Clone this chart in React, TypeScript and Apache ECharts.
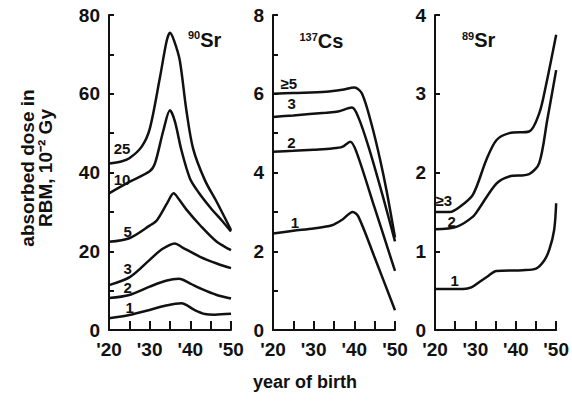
import React, { useEffect, useRef } from "react";
import * as echarts from "echarts";

const FONT = '"Liberation Sans", Arial, Helvetica, sans-serif';
const INK = "#111";

// ---- Panel 1: 90Sr (curves by age group label) ----
const sr90Y25 = [20, 23, 25, 28, 30, 32.5, 34.2, 35, 36, 37.4, 39, 40.7, 43.6, 46.5, 50];
const sr90V25 = [42.3, 42.8, 43.6, 46.5, 51, 64, 73.5, 75.5, 73.5, 68.5, 56, 46, 38, 32.5, 25.4];
const sr90Y10 = [20, 25, 30, 31.3, 33.4, 35, 36.2, 37.8, 39.9, 42, 45, 48, 50];
const sr90V10 = [34.7, 37.6, 40.3, 42.3, 50.8, 55.8, 53, 45.7, 38.5, 35, 31, 27.5, 25];
const sr90Y5 = [20, 25, 30, 31.8, 34.3, 35.9, 37.2, 39.1, 42.4, 46.5, 50];
const sr90V5 = [22.4, 23.3, 26.5, 27.9, 32.2, 34.7, 33.2, 30.5, 26.6, 22.4, 20.3];
const sr90Y3 = [20, 25.2, 30, 33, 36.2, 38, 42.4, 46.5, 50];
const sr90V3 = [11.4, 13.5, 17.8, 20.5, 22, 21, 18.6, 16.9, 15.7];
const sr90Y2 = [20, 25, 30, 34, 37.2, 40, 42.4, 46.5, 50];
const sr90V2 = [8.1, 8.9, 11, 12.5, 13.0, 11.8, 10.6, 8.9, 8.0];
const sr90Y1 = [20, 25, 30, 34, 37.8, 41, 43.6, 46, 50];
const sr90V1 = [3.0, 3.8, 5.1, 6.2, 6.8, 5.1, 4.06, 3.9, 4.1];

// ---- Panel 2: 137Cs ----
const cs5Y = [20, 25, 33, 37, 40, 41.9, 44.3, 46.4, 48, 50];
const cs5V = [6.0, 6.02, 6.05, 6.1, 6.16, 6.0, 5.2, 4.3, 3.5, 2.35];
const cs3Y = [20, 25, 33, 36, 39.4, 41, 43.5, 47, 50];
const cs3V = [5.41, 5.45, 5.52, 5.55, 5.65, 5.4, 4.65, 3.4, 2.25];
const cs2Y = [20, 25, 30, 34.5, 37, 39, 40.6, 45, 50];
const cs2V = [4.53, 4.55, 4.58, 4.61, 4.65, 4.78, 4.5, 3.1, 1.5];
const cs1Y = [20, 25, 30, 34.5, 37, 39.6, 41, 45, 50];
const cs1V = [2.45, 2.52, 2.58, 2.66, 2.8, 3.0, 2.88, 1.84, 0.5];

// ---- Panel 3: 89Sr ----
const sr89Y3 = [20, 23.7, 26, 29.4, 32.7, 35.2, 38.4, 43.3, 45.8, 47.4, 50];
const sr89V3 = [1.5, 1.5, 1.56, 1.72, 2.16, 2.41, 2.5, 2.52, 2.75, 3.09, 3.75];
const sr89Y2 = [20, 25.3, 29.4, 31, 35.2, 38.4, 43.3, 45.8, 47.8, 50];
const sr89V2 = [1.28, 1.31, 1.44, 1.55, 1.86, 1.95, 1.98, 2.12, 2.67, 3.3];
const sr89Y1 = [20, 27, 29, 31, 33, 35.2, 41.7, 45, 47, 48.3, 49.5, 50];
const sr89V1 = [0.52, 0.52, 0.54, 0.61, 0.68, 0.75, 0.76, 0.78, 0.88, 1.02, 1.27, 1.61];

// ---- curve labels (text, panel, anchor in data coords) ----
const curveLabelText = ["25", "10", "5", "3", "2", "1", "≥5", "3", "2", "1", "≥3", "2", "1"];
const curveLabelPanel = [0, 0, 0, 0, 0, 0, 1, 1, 1, 1, 2, 2, 2];
const curveLabelYear = [23.2, 23.2, 24.6, 24.6, 24.6, 25.1, 23.9, 24.6, 24.5, 25.4, 22.2, 24.1, 24.9];
const curveLabelValue = [46.2, 38.1, 24.9, 15.6, 10.8, 5.7, 6.25, 5.74, 4.76, 2.74, 1.65, 1.38, 0.63];

// ---- panel titles ----
const titleMass = ["90", "137", "89"];
const titleElem = ["Sr", "Cs", "Sr"];
const titleYear = [43.5, 31.9, 30.8];
const titleValue = [73.7, 7.33, 3.68];

// ---- axes ----
const xTickValues = [20, 30, 40, 50];
const xTickLabels = ["'20", "'30", "'40", "'50"];
const yMax = [80, 8, 4];
const yInterval = [10, 1, 1];
const yLabelStep = [20, 2, 1];

const gridLeft = [109, 273, 435];

export default function App() {
  const ref = useRef<HTMLDivElement>(null);
  useEffect(() => {
    if (!ref.current) return;
    const chart = echarts.init(ref.current, undefined, { renderer: "svg" });

    const panels: number[][][] = [
      [sr90Y25, sr90V25, sr90Y10, sr90V10, sr90Y5, sr90V5, sr90Y3, sr90V3, sr90Y2, sr90V2, sr90Y1, sr90V1],
      [cs5Y, cs5V, cs3Y, cs3V, cs2Y, cs2V, cs1Y, cs1V],
      [sr89Y3, sr89V3, sr89Y2, sr89V2, sr89Y1, sr89V1],
    ];

    const labelBase = {
      show: true,
      position: "inside",
      color: INK,
      opacity: 1,
      textBorderWidth: 0,
      textBorderColor: "transparent",
      fontFamily: FONT,
      fontWeight: "bold",
    };

    const series: any[] = [];
    panels.forEach((arrs, p) => {
      for (let k = 0; k < arrs.length; k += 2) {
        const xs = arrs[k];
        const ys = arrs[k + 1];
        series.push({
          type: "line",
          xAxisIndex: p,
          yAxisIndex: p,
          data: xs.map((x, i) => [x, ys[i]]),
          smooth: 0.3,
          symbol: "none",
          silent: true,
          lineStyle: { color: INK, width: 2.5 },
        });
      }
      const idx = curveLabelPanel.map((q, i) => (q === p ? i : -1)).filter((i) => i >= 0);
      series.push({
        type: "scatter",
        xAxisIndex: p,
        yAxisIndex: p,
        symbolSize: 1,
        silent: true,
        itemStyle: { color: "rgba(0,0,0,0)" },
        data: idx.map((i) => ({
          value: [curveLabelYear[i], curveLabelValue[i]],
          label: { formatter: curveLabelText[i] },
        })),
        label: { ...labelBase, fontSize: 15 },
      });
      series.push({
        type: "scatter",
        xAxisIndex: p,
        yAxisIndex: p,
        symbolSize: 1,
        silent: true,
        itemStyle: { color: "rgba(0,0,0,0)" },
        data: [{ value: [titleYear[p], titleValue[p]] }],
        label: {
          ...labelBase,
          formatter: `{s|${titleMass[p]}}{m|${titleElem[p]}}`,
          rich: {
            s: { fontSize: 11, fontWeight: "bold", color: INK, fontFamily: FONT, verticalAlign: "top", lineHeight: 20 },
            m: { fontSize: 20, fontWeight: "bold", color: INK, fontFamily: FONT, verticalAlign: "bottom", lineHeight: 20 },
          },
        },
      });
    });

    const option: any = {
      animation: false,
      backgroundColor: "#fff",
      grid: gridLeft.map((l) => ({ left: l, top: 15, width: 122, height: 315 })),
      xAxis: [0, 1, 2].map((i) => ({
        type: "value",
        gridIndex: i,
        min: 20,
        max: 50,
        interval: 5,
        splitLine: { show: false },
        axisLine: { lineStyle: { color: INK, width: 2 } },
        axisTick: { inside: true, length: 9, lineStyle: { color: INK, width: 2 } },
        axisLabel: {
          showMinLabel: true,
          showMaxLabel: true,
          margin: 10,
          fontSize: 19,
          fontWeight: "bold",
          color: INK,
          fontFamily: FONT,
          formatter: (v: number) => {
            const j = xTickValues.indexOf(v);
            return j >= 0 ? xTickLabels[j] : "";
          },
        },
      })),
      yAxis: [0, 1, 2].map((i) => ({
        type: "value",
        gridIndex: i,
        min: 0,
        max: yMax[i],
        interval: yInterval[i],
        splitLine: { show: false },
        axisLine: { lineStyle: { color: INK, width: 2 } },
        axisTick: { inside: true, length: 5, lineStyle: { color: INK, width: 2 } },
        axisLabel: {
          showMinLabel: true,
          showMaxLabel: true,
          margin: 9,
          fontSize: 19,
          fontWeight: "bold",
          color: INK,
          fontFamily: FONT,
          formatter: (v: number) => (Math.abs(v / yLabelStep[i] - Math.round(v / yLabelStep[i])) < 1e-6 ? String(v) : ""),
        },
      })),
      series,
      graphic: [
        {
          type: "text",
          x: 36,
          y: 168,
          rotation: Math.PI / 2,
          style: {
            text: "absorbed dose in\nRBM, 10⁻² Gy",
            fontSize: 19,
            fontWeight: "bold",
            fontFamily: FONT,
            fill: INK,
            align: "center",
            verticalAlign: "middle",
            lineHeight: 18,
          },
        },
        {
          type: "text",
          x: 305,
          y: 382,
          style: {
            text: "year of birth",
            fontSize: 18,
            fontWeight: "bold",
            fontFamily: FONT,
            fill: INK,
            align: "center",
            verticalAlign: "middle",
          },
        },
      ],
    };
    chart.setOption(option);
    return () => chart.dispose();
  }, []);

  return (
    <div
      ref={ref}
      style={{ position: "fixed", left: 0, top: 0, width: 572, height: 402, background: "#fff" }}
    />
  );
}
